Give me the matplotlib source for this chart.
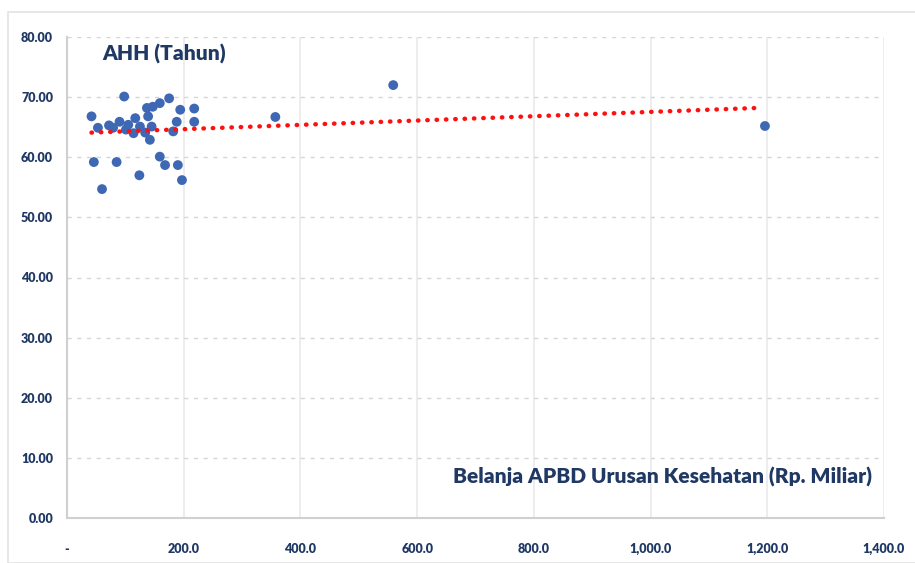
import matplotlib
matplotlib.use("Agg")
import matplotlib.pyplot as plt
import numpy as np
from matplotlib.ticker import FuncFormatter, MultipleLocator
from matplotlib.patches import Rectangle

belanja = [42, 98, 46, 85, 60, 124, 72, 90, 105, 117, 114, 137, 147, 159, 175, 139,
           145, 142, 159, 168, 182, 188, 194, 218, 218, 190, 197, 134, 125, 53, 79, 101,
           357, 559, 1196]
ahh = [66.8, 70.1, 59.2, 59.2, 54.7, 57.0, 65.3, 65.9, 65.4, 66.5, 64.0, 68.2, 68.4, 69.0,
       69.8, 66.8, 65.1, 62.9, 60.1, 58.7, 64.3, 65.9, 67.9, 68.1, 65.9, 58.7, 56.2, 64.1,
       65.1, 64.9, 64.9, 64.6, 66.7, 72.0, 65.2]
trend_x = [42, 1183]
trend_y = [64.1, 68.2]

navy = "#1F3864"
fam = ["Lato", "DejaVu Sans"]

fig = plt.figure(figsize=(9.15, 5.63), dpi=100)
fig.patches.append(Rectangle((8/915, 0), 1, 1 - 12/563, transform=fig.transFigure,
                             fill=False, edgecolor="#E3E3E3", lw=1.2))
ax = fig.add_axes([67/915, 45/563, (884-67)/915, (518-37)/563])
ax.set_xlim(0, 1400)
ax.set_ylim(0, 80)

ax.xaxis.set_major_locator(MultipleLocator(200))
ax.yaxis.set_major_locator(MultipleLocator(10))
ax.xaxis.set_major_formatter(FuncFormatter(lambda v, p: "-" if v == 0 else f"{v:,.1f}"))
ax.yaxis.set_major_formatter(FuncFormatter(lambda v, p: f"{v:.2f}"))

ax.grid(axis="y", color="#D6D6D6", linestyle=(0, (3, 4)), lw=1.0)
ax.grid(axis="x", color="#EAEAEA", linestyle="-", lw=1.2)
ax.set_axisbelow(True)
for s in ["top", "right"]:
    ax.spines[s].set_visible(False)
for s in ["left", "bottom"]:
    ax.spines[s].set_color("#D0D0D0")
    ax.spines[s].set_linewidth(1.5)
ax.tick_params(length=0, pad=10)
for lab in ax.get_xticklabels() + ax.get_yticklabels():
    lab.set_fontfamily(fam)
    lab.set_fontweight("heavy")
    lab.set_fontsize(9)
    lab.set_color(navy)
ax.tick_params(axis="x", pad=18)

ax.scatter(belanja, ahh, s=50, color="#3E68B4", edgecolors="none", zorder=3)
ax.plot(trend_x, trend_y, color="#FF1010", lw=3.2, linestyle=(0, (0.1, 2.0)),
        dash_capstyle="round", zorder=4)

ax.text(0.043, 0.985, "AHH (Tahun)", transform=ax.transAxes, fontsize=15,
        fontweight="heavy", color=navy, family=fam, va="top", ha="left")
ax.text(0.985, 0.085, "Belanja APBD Urusan Kesehatan (Rp. Miliar)", transform=ax.transAxes,
        fontsize=15, fontweight="heavy", color=navy, family=fam, va="center", ha="right")

fig.savefig("out.png", dpi=100)
